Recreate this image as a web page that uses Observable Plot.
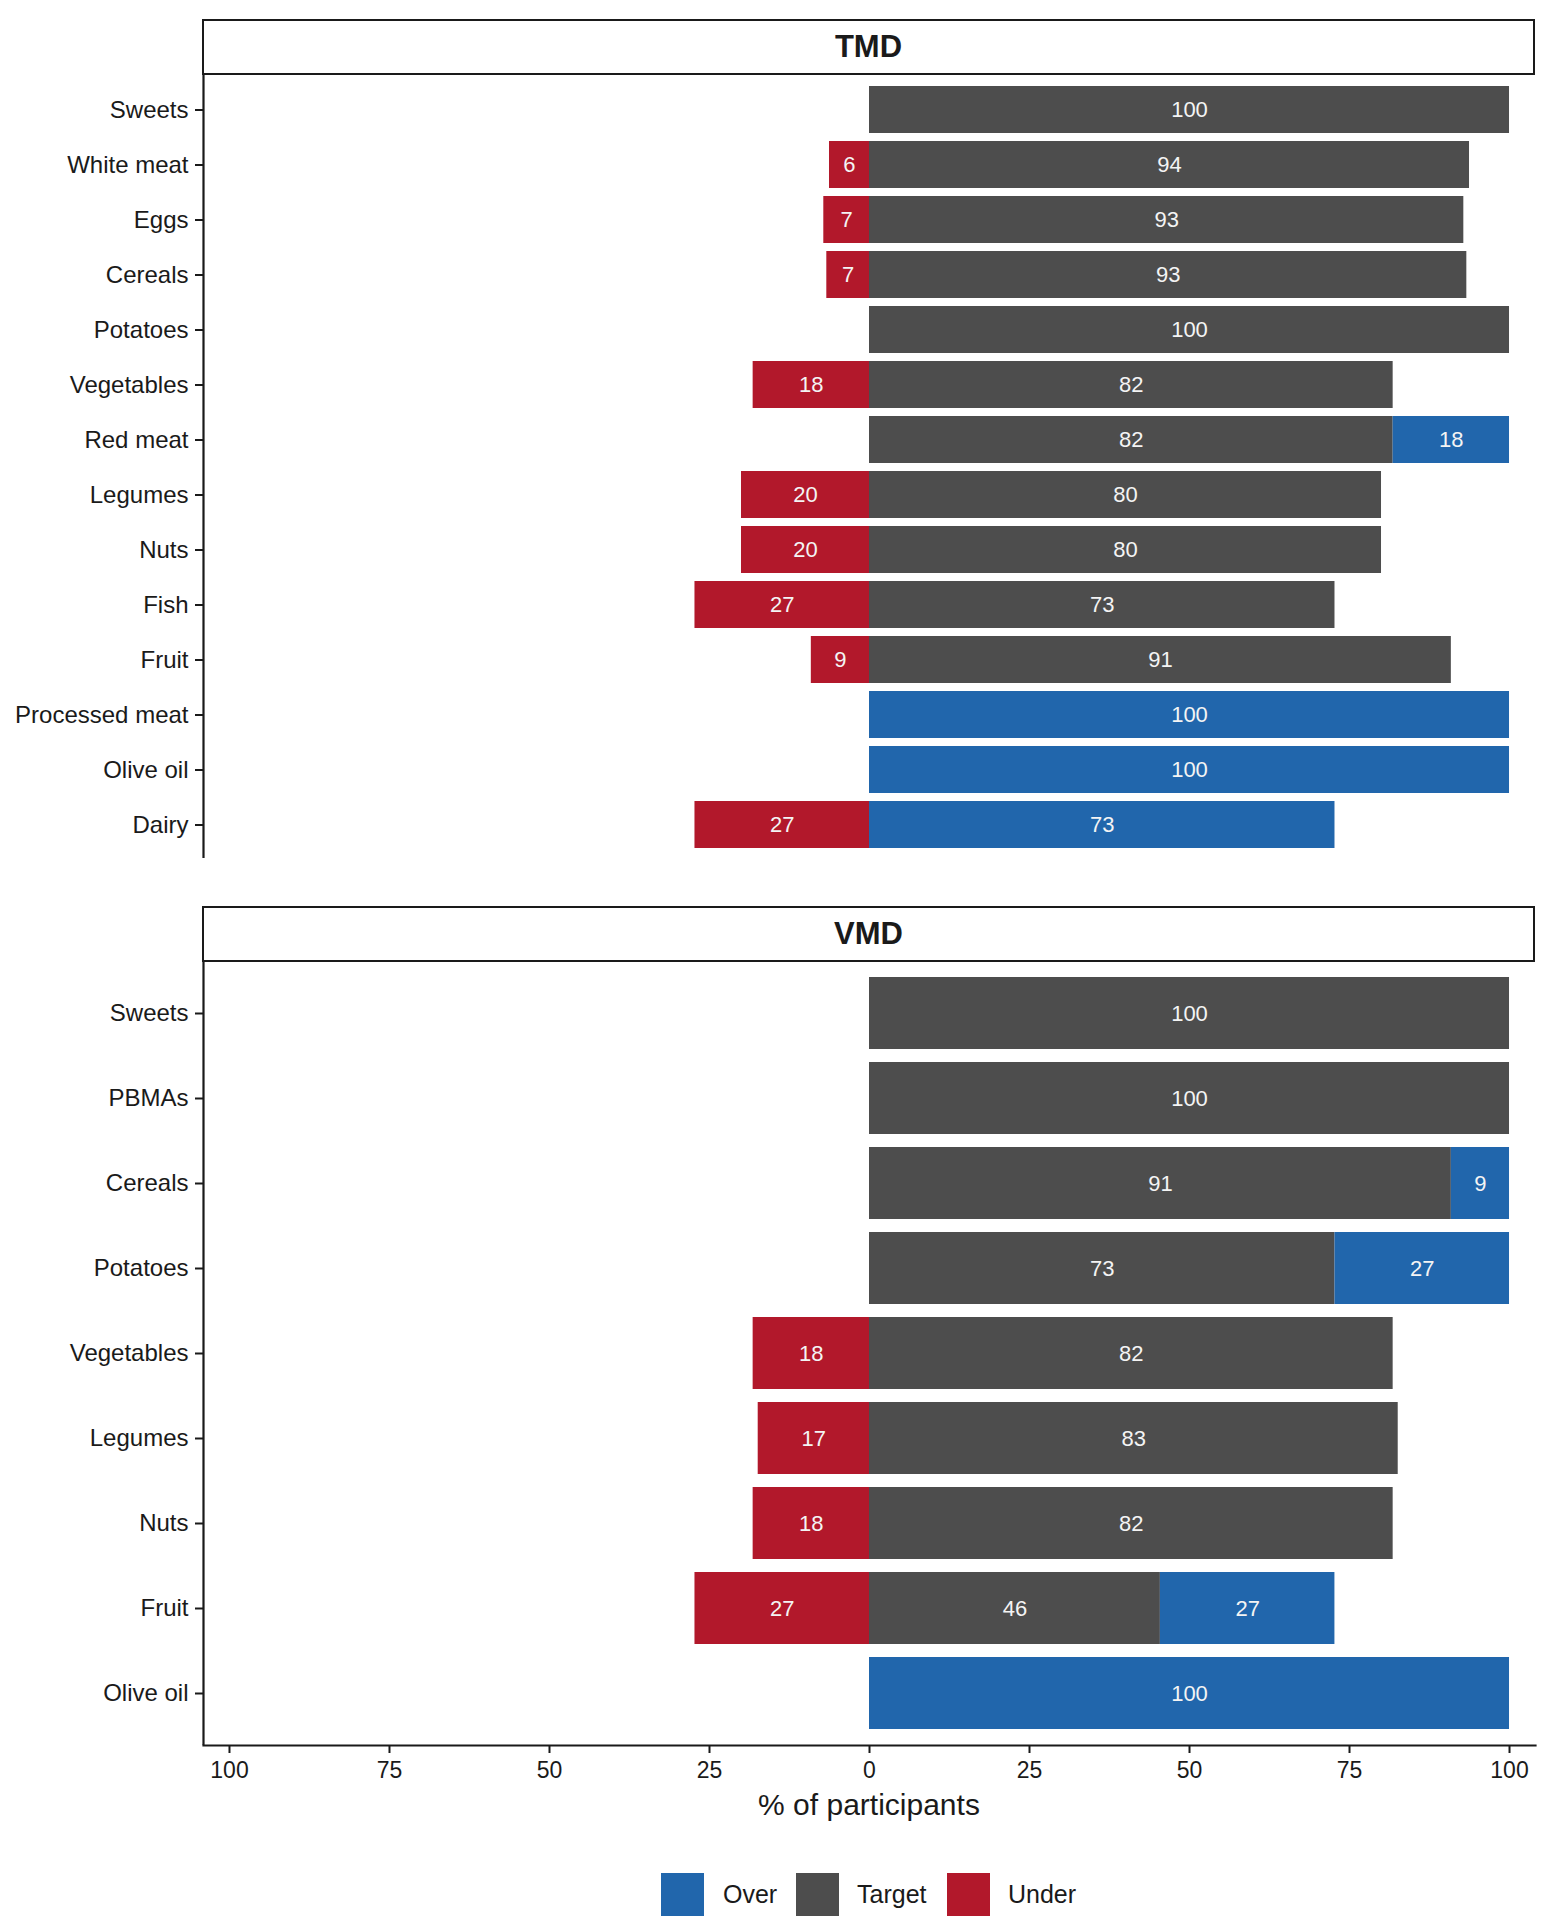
<!DOCTYPE html>
<html>
<head>
<meta charset="utf-8">
<script src="https://cdn.jsdelivr.net/npm/d3@7"></script>
<script src="https://cdn.jsdelivr.net/npm/@observablehq/plot@0.6"></script>
<style>
  body { margin: 0; background: #fff; font-family: "Liberation Sans", Arial, Helvetica, sans-serif; }
  #wrap { position: relative; width: 1553px; height: 1931px; overflow: hidden; }
  #wrap svg { position: absolute; left: 0; overflow: visible; }
  .strip { position: absolute; box-sizing: border-box; border: 2px solid #1a1a1a; background: #fff;
           display: flex; align-items: center; justify-content: center;
           font-weight: bold; font-size: 31px; color: #1a1a1a; }
  .abs { position: absolute; white-space: nowrap; color: #1a1a1a; }
  .key { position: absolute; width: 43px; height: 43px; }
</style>
</head>
<body>
<div id="wrap"></div>
<script>
// ---------------- data ----------------
const statuses = ["Over", "Target", "Under"];
const statusColors = ["#2166AC", "#4D4D4D", "#B2182B"];
const stackOrder = ["Target", "Over", "Under"];

const tmdFoods  = ["Sweets", "White meat", "Eggs", "Cereals", "Potatoes", "Vegetables", "Red meat",
                   "Legumes", "Nuts", "Fish", "Fruit", "Processed meat", "Olive oil", "Dairy"];
const tmdUnder  = [0, 6.25, 7.14, 6.67, 0, 18.18, 0, 20, 20, 27.27, 9.09, 0, 0, 27.27];
const tmdTarget = [100, 93.75, 92.86, 93.33, 100, 81.82, 81.82, 80, 80, 72.73, 90.91, 0, 0, 0];
const tmdOver   = [0, 0, 0, 0, 0, 0, 18.18, 0, 0, 0, 0, 100, 100, 72.73];

const vmdFoods  = ["Sweets", "PBMAs", "Cereals", "Potatoes", "Vegetables", "Legumes", "Nuts", "Fruit", "Olive oil"];
const vmdUnder  = [0, 0, 0, 0, 18.18, 17.39, 18.18, 27.27, 0];
const vmdTarget = [100, 100, 90.91, 72.73, 81.82, 82.61, 81.82, 45.45, 0];
const vmdOver   = [0, 0, 9.09, 27.27, 0, 0, 0, 27.27, 100];

const xTicks = [-100, -75, -50, -25, 0, 25, 50, 75, 100];
const xDomain = [-104.06, 104.06];

const panelTitles = ["TMD", "VMD"];
const axisTitle = "% of participants";

// labels rounded so that each row sums to 100 (largest remainder)
function roundRow(parts) {
  const floors = parts.map(Math.floor);
  let rem = Math.round(100 - d3.sum(floors));
  const idx = d3.range(parts.length).filter(i => parts[i] > 0)
    .sort((a, b) => (parts[b] - floors[b]) - (parts[a] - floors[a]));
  for (let k = 0; k < idx.length && rem > 0; k++, rem--) floors[idx[k]] += 1;
  return floors;
}

function build(foods, under, target, over) {
  const rows = [];
  foods.forEach((food, i) => {
    const parts = [under[i], target[i], over[i]];
    const labels = roundRow(parts);
    const names = ["Under", "Target", "Over"];
    names.forEach((s, j) => {
      if (parts[j] > 0) rows.push({food, status: s, value: s === "Under" ? -parts[j] : parts[j], label: labels[j]});
    });
  });
  return rows;
}

const tmdData = build(tmdFoods, tmdUnder, tmdTarget, tmdOver);
const vmdData = build(vmdFoods, vmdUnder, vmdTarget, vmdOver);

// ---------------- plots ----------------
const wrap = document.getElementById("wrap");
const W = 1553;

function panel(data, foods, opts) {
  return Plot.plot({
    width: W,
    height: opts.height,
    marginTop: opts.marginTop,
    marginBottom: opts.marginBottom,
    marginLeft: 203,
    marginRight: 18,
    style: { fontFamily: '"Liberation Sans", Arial, Helvetica, sans-serif', fontSize: "24px", color: "#1a1a1a", background: "transparent" },
    x: { domain: xDomain, axis: null },
    y: { domain: foods, paddingInner: 0.15, paddingOuter: 0.175, label: null },
    color: { domain: statuses, range: statusColors },
    marks: [
      Plot.barX(data, Plot.stackX({ x: "value", y: "food", fill: "status", z: "status", order: stackOrder })),
      Plot.text(data, Plot.stackX({ x: "value", y: "food", z: "status", order: stackOrder,
                                    text: "label", fill: "#f4f4f4", fontSize: 22 })),
      Plot.ruleX([xDomain[0]], { stroke: "#1a1a1a", strokeWidth: 2.2 }),
      Plot.axisY({ tickSize: 8, tickPadding: 7, strokeWidth: 2, label: null }),
      ...(opts.xaxis ? [
        Plot.frame({ anchor: "bottom", stroke: "#1a1a1a", strokeWidth: 2.2 }),
        Plot.axisX({ ticks: xTicks, tickFormat: d => Math.abs(d), tickSize: 8, tickPadding: 8,
                     strokeWidth: 2, fontSize: 23, label: null })
      ] : [])
    ]
  });
}

const p1 = panel(tmdData, tmdFoods, { height: 858, marginTop: 75, marginBottom: 0, xaxis: false });
p1.style.top = "0px";
wrap.appendChild(p1);

const p2 = panel(vmdData, vmdFoods, { height: 920, marginTop: 82, marginBottom: 55, xaxis: true });
p2.style.top = "880px";
wrap.appendChild(p2);

// facet strips
[[19, panelTitles[0]], [906, panelTitles[1]]].forEach(([top, t]) => {
  const s = document.createElement("div");
  s.className = "strip";
  s.style.top = top + "px";
  s.style.left = "202px";
  s.style.width = "1333px";
  s.style.height = "56px";
  s.textContent = t;
  wrap.appendChild(s);
});

// axis title
const at = document.createElement("div");
at.className = "abs";
at.style.cssText += "left:0;width:1738px;text-align:center;top:1790px;font-size:30px;line-height:30px;";
at.textContent = axisTitle;
wrap.appendChild(at);

// legend
const keyX = [661, 796, 947];
const textX = [723, 857, 1008];
statuses.forEach((s, i) => {
  const k = document.createElement("div");
  k.className = "key";
  k.style.left = keyX[i] + "px";
  k.style.top = "1873px";
  k.style.background = statusColors[i];
  wrap.appendChild(k);
  const t = document.createElement("div");
  t.className = "abs";
  t.style.left = textX[i] + "px";
  t.style.top = "1882px";
  t.style.fontSize = "25px";
  t.style.lineHeight = "25px";
  t.textContent = s;
  wrap.appendChild(t);
});
</script>
</body>
</html>
